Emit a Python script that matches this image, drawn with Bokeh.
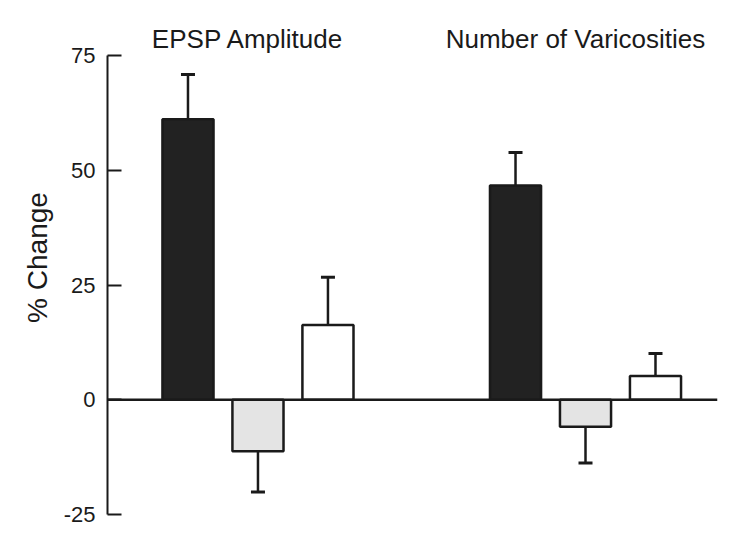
from bokeh.plotting import figure
from bokeh.models import (ColumnDataSource, FixedTicker, Span, Whisker, TeeHead, Range1d,
                          PrintfTickFormatter)
from bokeh.core.properties import value
from bokeh.embed import file_html
from bokeh.resources import INLINE

# ---- data ----
groups = ["EPSP Amplitude", "Number of Varicosities"]
conditions = ["Condition 1", "Condition 2", "Condition 3"]
epsp_values = [61.1, -11.2, 16.3]
epsp_errors = [9.8, 8.9, 10.4]
var_values = [46.7, -5.9, 5.2]
var_errors = [7.2, 7.9, 4.9]
y_ticks = [-25, 0, 25, 50, 75]

# ---- styling / layout constants ----
fills = ["#222222", "#e4e4e4", "#ffffff"]
group_gap = 2.68
bar_width = 0.73
FONT = "Liberation Sans"
INK = "#1a1a1a"

xs, tops, tips, colors = [], [], [], []
for gi, (vals, errs) in enumerate([(epsp_values, epsp_errors), (var_values, var_errors)]):
    for ci, (v, e) in enumerate(zip(vals, errs)):
        xs.append(gi * (len(conditions) - 1 + group_gap) + ci)
        tops.append(v)
        tips.append(v + e if v >= 0 else v - e)
        colors.append(fills[ci])

src = ColumnDataSource(dict(x=xs, top=tops, tip=tips, color=colors))

group_centers = [gi * (len(conditions) - 1 + group_gap) + (len(conditions) - 1) / 2
                 for gi in range(len(groups))]
tsrc = ColumnDataSource(dict(x=group_centers, y=[78.7] * len(groups), text=groups))

p = figure(width=722, height=528, output_backend="svg", toolbar_location=None,
           x_range=Range1d(-1.15, 7.566), y_range=Range1d(-25, 87.0),
           min_border_left=107, min_border_right=5, min_border_top=0, min_border_bottom=14)

p.outline_line_color = None
p.grid.visible = False
p.xaxis.visible = False
p.background_fill_color = "white"

ax = p.yaxis[0]
ax.ticker = FixedTicker(ticks=y_ticks)
ax.formatter = PrintfTickFormatter(format="%d")
ax.bounds = (-25, 75)
ax.axis_line_width = 2
ax.axis_line_color = INK
ax.major_tick_in = 14
ax.major_tick_out = 0
ax.major_tick_line_width = 2
ax.major_tick_line_color = INK
ax.minor_tick_line_color = None
ax.major_label_text_font = FONT
ax.major_label_text_font_size = "22px"
ax.major_label_text_color = INK
ax.major_label_standoff = 12
ax.axis_label = "% Change"
ax.axis_label_text_font = FONT
ax.axis_label_text_font_size = "28px"
ax.axis_label_text_font_style = "normal"
ax.axis_label_text_color = INK
ax.axis_label_standoff = 8

p.add_layout(Span(location=0, dimension="width", line_color=INK, line_width=2.5))

p.vbar(x="x", top="top", bottom=0, width=bar_width, source=src,
       fill_color="color", line_color=INK, line_width=2.5)

p.add_layout(Whisker(base="x", lower="top", upper="tip", source=src,
                     line_color=INK, line_width=2.5,
                     upper_head=TeeHead(size=14, line_width=3, line_color=INK),
                     lower_head=None))

p.text(x="x", y="y", text="text", source=tsrc, x_offset=-10,
       text_align="center", text_baseline="alphabetic",
       text_font=value(FONT), text_font_size="26px", text_color=INK)

open("out.html", "w").write(file_html(p, INLINE))
